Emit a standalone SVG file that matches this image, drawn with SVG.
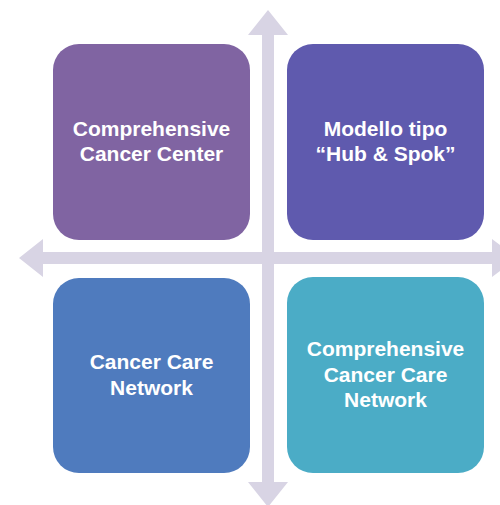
<svg xmlns="http://www.w3.org/2000/svg" width="500" height="505" viewBox="0 0 500 505">
<style>
.arrow{fill:#D8D4E4;}
.box{stroke:none;}
.lbl{font-family:"Liberation Sans",Arial,sans-serif;font-weight:bold;font-size:21px;fill:#FFFFFF;text-anchor:middle;}
</style>
<rect width="500" height="505" fill="#FFFFFF"/>
<g id="connectors">
<polygon class="arrow" points="268,10 288,35 274,35 274,482 288,482 268,507 248,482 262,482 262,35 248,35"/>
<polygon class="arrow" points="19,258 43,239 43,252 492,252 492,239 517,258 492,277 492,264 43,264 43,277"/>
</g>
<g id="node-ccc">
<rect class="box" x="53" y="44" width="197" height="196" rx="26" fill="#8064A2"/>
<text class="lbl" x="151.5" y="136">Comprehensive</text>
<text class="lbl" x="151.5" y="161">Cancer Center</text>
</g>
<g id="node-hub">
<rect class="box" x="287" y="44" width="197" height="196" rx="26" fill="#5F5AAE"/>
<text class="lbl" x="385.5" y="136">Modello tipo</text>
<text class="lbl" x="385.5" y="161">“Hub &amp; Spok”</text>
</g>
<g id="node-ccn">
<rect class="box" x="53" y="278" width="197" height="195" rx="26" fill="#4F7BBE"/>
<text class="lbl" x="151.5" y="369">Cancer Care</text>
<text class="lbl" x="151.5" y="394.5">Network</text>
</g>
<g id="node-cccn">
<rect class="box" x="287" y="277" width="197" height="196" rx="26" fill="#4BACC6"/>
<text class="lbl" x="385.5" y="356">Comprehensive</text>
<text class="lbl" x="385.5" y="381.5">Cancer Care</text>
<text class="lbl" x="385.5" y="407">Network</text>
</g>
</svg>
